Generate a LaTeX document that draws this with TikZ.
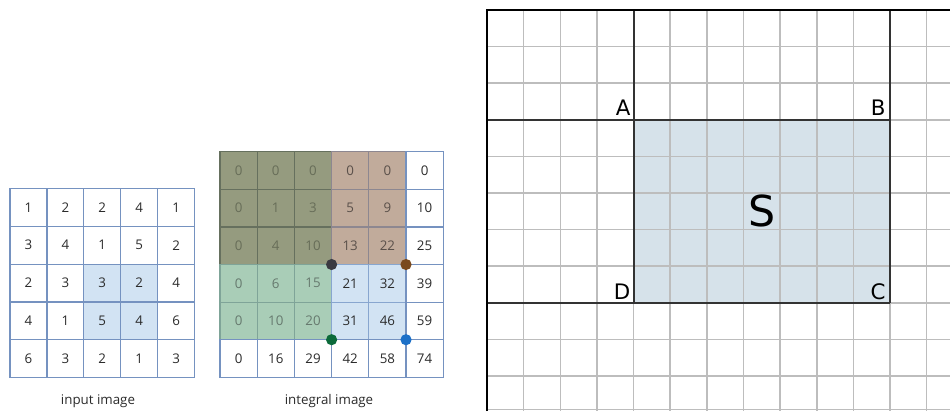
\documentclass[tikz,border=0pt]{standalone}
\usepackage{fontspec}
\setmainfont{Open Sans}
\newfontfamily\dvs{DejaVu Sans}
\definecolor{gblue}{HTML}{7592C0}
\definecolor{txt}{HTML}{2B2B2B}
\definecolor{olfill}{HTML}{959B7F}
\definecolor{olline}{HTML}{66705E}
\definecolor{oltxt}{HTML}{676D58}
\definecolor{tnfill}{HTML}{C1AB9B}
\definecolor{tnline}{HTML}{8D8790}
\definecolor{tntxt}{HTML}{5A504A}
\definecolor{grfill}{HTML}{A9CDB7}
\definecolor{grline}{HTML}{7FA498}
\definecolor{grtxt}{HTML}{66796E}
\definecolor{lbfill}{HTML}{D2E3F3}
\definecolor{lbline}{HTML}{88A6CF}
\definecolor{sfill}{HTML}{D6E2EA}
\definecolor{gline}{HTML}{BDBDBD}
\definecolor{dkline}{HTML}{333333}
\definecolor{dotdk}{HTML}{3A3A42}
\definecolor{dotbr}{HTML}{7A4A1E}
\definecolor{dotgr}{HTML}{0B6A3A}
\definecolor{dotbl}{HTML}{1C70C8}
\begin{document}
\begin{tikzpicture}[x=0.75pt,y=-0.75pt,
  incell/.style={draw=gblue, line width=0.9pt, fill=white, minimum width=27.7pt,
    minimum height=28.35pt, inner sep=0pt, outer sep=0pt, anchor=north west,
    font=\fontsize{10}{12}\selectfont, text=txt},
  iicell/.style={incell, minimum width=27.9pt, minimum height=28.2pt},
  wh/.style={},
  ol/.style={fill=olfill, draw=olline, text=oltxt},
  tn/.style={fill=tnfill, draw=tnline, text=tntxt},
  gr/.style={fill=grfill, draw=grline, text=grtxt},
  lb/.style={fill=lbfill, draw=lbline},
  lbi/.style={fill=lbfill},
  dot/.style={circle, inner sep=0pt, minimum size=8.4pt},
  caption/.style={font=\fontsize{10}{12}\selectfont, text=txt},
  gridline/.style={draw=gline, line width=1.1pt},
  heavy/.style={draw=dkline, line width=1.5pt},
  border/.style={draw=black, line width=2.2pt},
  corner/.style={font=\dvs\fontsize{16}{18}\selectfont, inner sep=1pt, anchor=south east},
]
\useasboundingbox (0,0) rectangle (950,411);

% input image
\foreach \row [count=\r] in {
  {1/wh,2/wh,2/wh,4/wh,1/wh},
  {3/wh,4/wh,1/wh,5/wh,2/wh},
  {2/wh,3/wh,3/lbi,2/lbi,4/wh},
  {4/wh,1/wh,5/lbi,4/lbi,6/wh},
  {6/wh,3/wh,2/wh,1/wh,3/wh}} {
  \foreach \v/\s [count=\c] in \row {
    \node[incell,\s] (in-\r-\c) at ({10+36.9*(\c-1)},{188.5+37.8*(\r-1)}) {\v};
  }
}
\node[caption] (inlab) at (98,401) {input image};

% integral image
\foreach \row [count=\r] in {
  {0/ol,0/ol,0/ol,0/tn,0/tn,0/wh},
  {0/ol,1/ol,3/ol,5/tn,9/tn,10/wh},
  {0/ol,4/ol,10/ol,13/tn,22/tn,25/wh},
  {0/gr,6/gr,15/gr,21/lb,32/lb,39/wh},
  {0/gr,10/gr,20/gr,31/lb,46/lb,59/wh},
  {0/wh,16/wh,29/wh,42/wh,58/wh,74/wh}} {
  \foreach \v/\s [count=\c] in \row {
    \node[iicell,\s] (ii-\r-\c) at ({220+37.2*(\c-1)},{151.7+37.6*(\r-1)}) {\v};
  }
}
\node[dot, fill=dotdk] (d1) at (ii-3-3.south east) {};
\node[dot, fill=dotbr] (d2) at (ii-3-5.south east) {};
\node[dot, fill=dotgr] (d3) at (ii-5-3.south east) {};
\node[dot, fill=dotbl] (d4) at (ii-5-5.south east) {};
\node[caption] (iilab) at (329,401) {integral image};

% right panel
\fill[sfill] (633.6,119.8) rectangle (890,302.8);
\foreach \k in {1,...,12} \draw[gridline] ({487+36.64*\k},10) -- ({487+36.64*\k},411);
\foreach \k in {1,...,10} \draw[gridline] (487,{10+36.6*\k}) -- (950,{10+36.6*\k});
\draw[gridline] (487,409.6) -- (950,409.6);
\draw[heavy] (633.6,10) -- (633.6,302.8);
\draw[heavy] (890,10) -- (890,302.8);
\draw[heavy] (487,119.8) -- (890,119.8);
\draw[heavy] (487,302.8) -- (890,302.8);
\draw[border] (487,411) -- (487,10) -- (950,10);
\node[corner] (A) at (632,117.5) {A};
\node[corner] (B) at (887,117.5) {B};
\node[corner] (D) at (632,301) {D};
\node[corner] (C) at (887,301) {C};
\node[font=\dvs\fontsize{32}{36}\selectfont] (S) at (762,211) {S};
\end{tikzpicture}
\end{document}
